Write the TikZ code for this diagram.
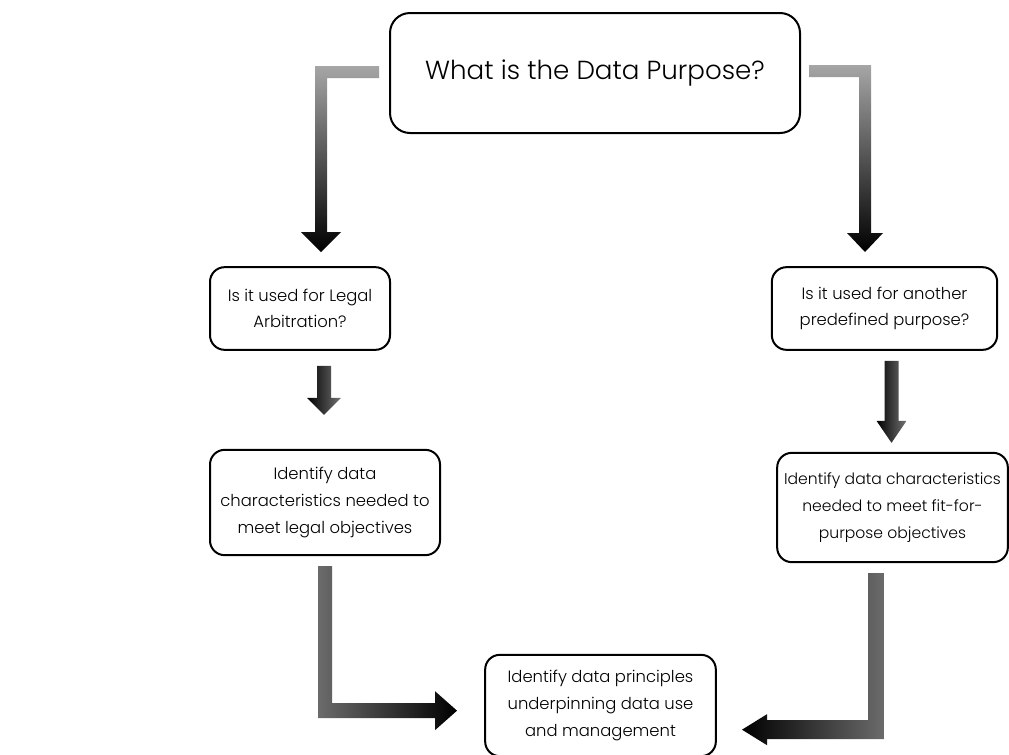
\documentclass[tikz,border=0pt]{standalone}
\usepackage{fontspec}
\setmainfont{Poppins}[UprightFont=* Light]
\usetikzlibrary{calc}

\begin{document}
\begin{tikzpicture}[x=0.75pt,y=-0.75pt,
  box/.style={draw,line width=1.5pt,rounded corners=11pt,align=center,inner sep=2pt,
    font=\fontsize{12.3}{20}\selectfont},
  bigbox/.style={box,rounded corners=15pt,font=\fontsize{19.6}{23}\selectfont},
  fade/.style={top color=black!35,bottom color=black},
  shine/.style={left color=black,right color=black!55},
  tolight/.style={left color=black!58,right color=black},
  toleft/.style={left color=black,right color=black!58}]
  \useasboundingbox (0,0) rectangle (1009,754);

  % boxes
  \node[bigbox,minimum width=307.5pt,minimum height=90pt] (purpose) at (595,73) {What is the Data Purpose?};
  \node[box,minimum width=135pt,minimum height=62pt] (legal) at (300,308.5) {Is it used for Legal\\Arbitration?};
  \node[box,minimum width=169pt,minimum height=62pt] (other) at (884.5,308.5) {Is it used for another\\predefined purpose?};
  \node[box,minimum width=172.5pt,minimum height=79pt] (legalchar) at (325,502.5) {Identify data\\characteristics needed to\\meet legal objectives};
  \node[box,inner xsep=0pt,minimum width=173pt,minimum height=82pt,font=\fontsize{11.7}{20}\selectfont] (otherchar) at (892.5,507.5) {Identify data characteristics\\needed to meet fit-for-\\purpose objectives};
  \node[box,minimum width=173pt,minimum height=76pt] (principles) at (600.5,705.5) {Identify data principles\\underpinning data use\\and management};

  % arrows from the question
  \shade[fade] ($(purpose.west)+(-10,-7)$) -- ++(-64,0) -- ++(0,166) -- ++(-14,0) -- ++(20,20)
    -- ++(20,-20) -- ++(-14,0) -- ++(0,-154) -- ++(52,0) -- cycle;
  \shade[fade] ($(purpose.east)+(8,-8)$) -- ++(62,0) -- ++(0,168) -- ++(12,0) -- ++(-18,19)
    -- ++(-18,-19) -- ++(12,0) -- ++(0,-156) -- ++(-50,0) -- cycle;

  % short arrows
  \shade[shine] ($(legal.south)+(17,15)$) -- ++(14,0) -- ++(0,32) -- ++(10,0) -- ++(-17,17)
    -- ++(-17,-17) -- ++(10,0) -- cycle;
  \shade[shine] ($(other.south)+(0,10)$) -- ++(14,0) -- ++(0,60) -- ++(8,0) -- ++(-15,22)
    -- ++(-15,-22) -- ++(8,0) -- cycle;

  % into the principles
  \shade[tolight] ($(legalchar.south)+(-7,10)$) -- ++(14,0) -- ++(0,137) -- ++(103,0) -- ++(0,-12)
    -- ++(22,19.5) -- ++(-22,19.5) -- ++(0,-12) -- ++(-117,0) -- cycle;
  \shade[toleft] ($(otherchar.south)+(-24.5,10)$) -- ++(16,0) -- ++(0,166) -- ++(-117,0) -- ++(0,6)
    -- ++(-25,-15.5) -- ++(25,-15.5) -- ++(0,6) -- ++(101,0) -- cycle;
\end{tikzpicture}
\end{document}
